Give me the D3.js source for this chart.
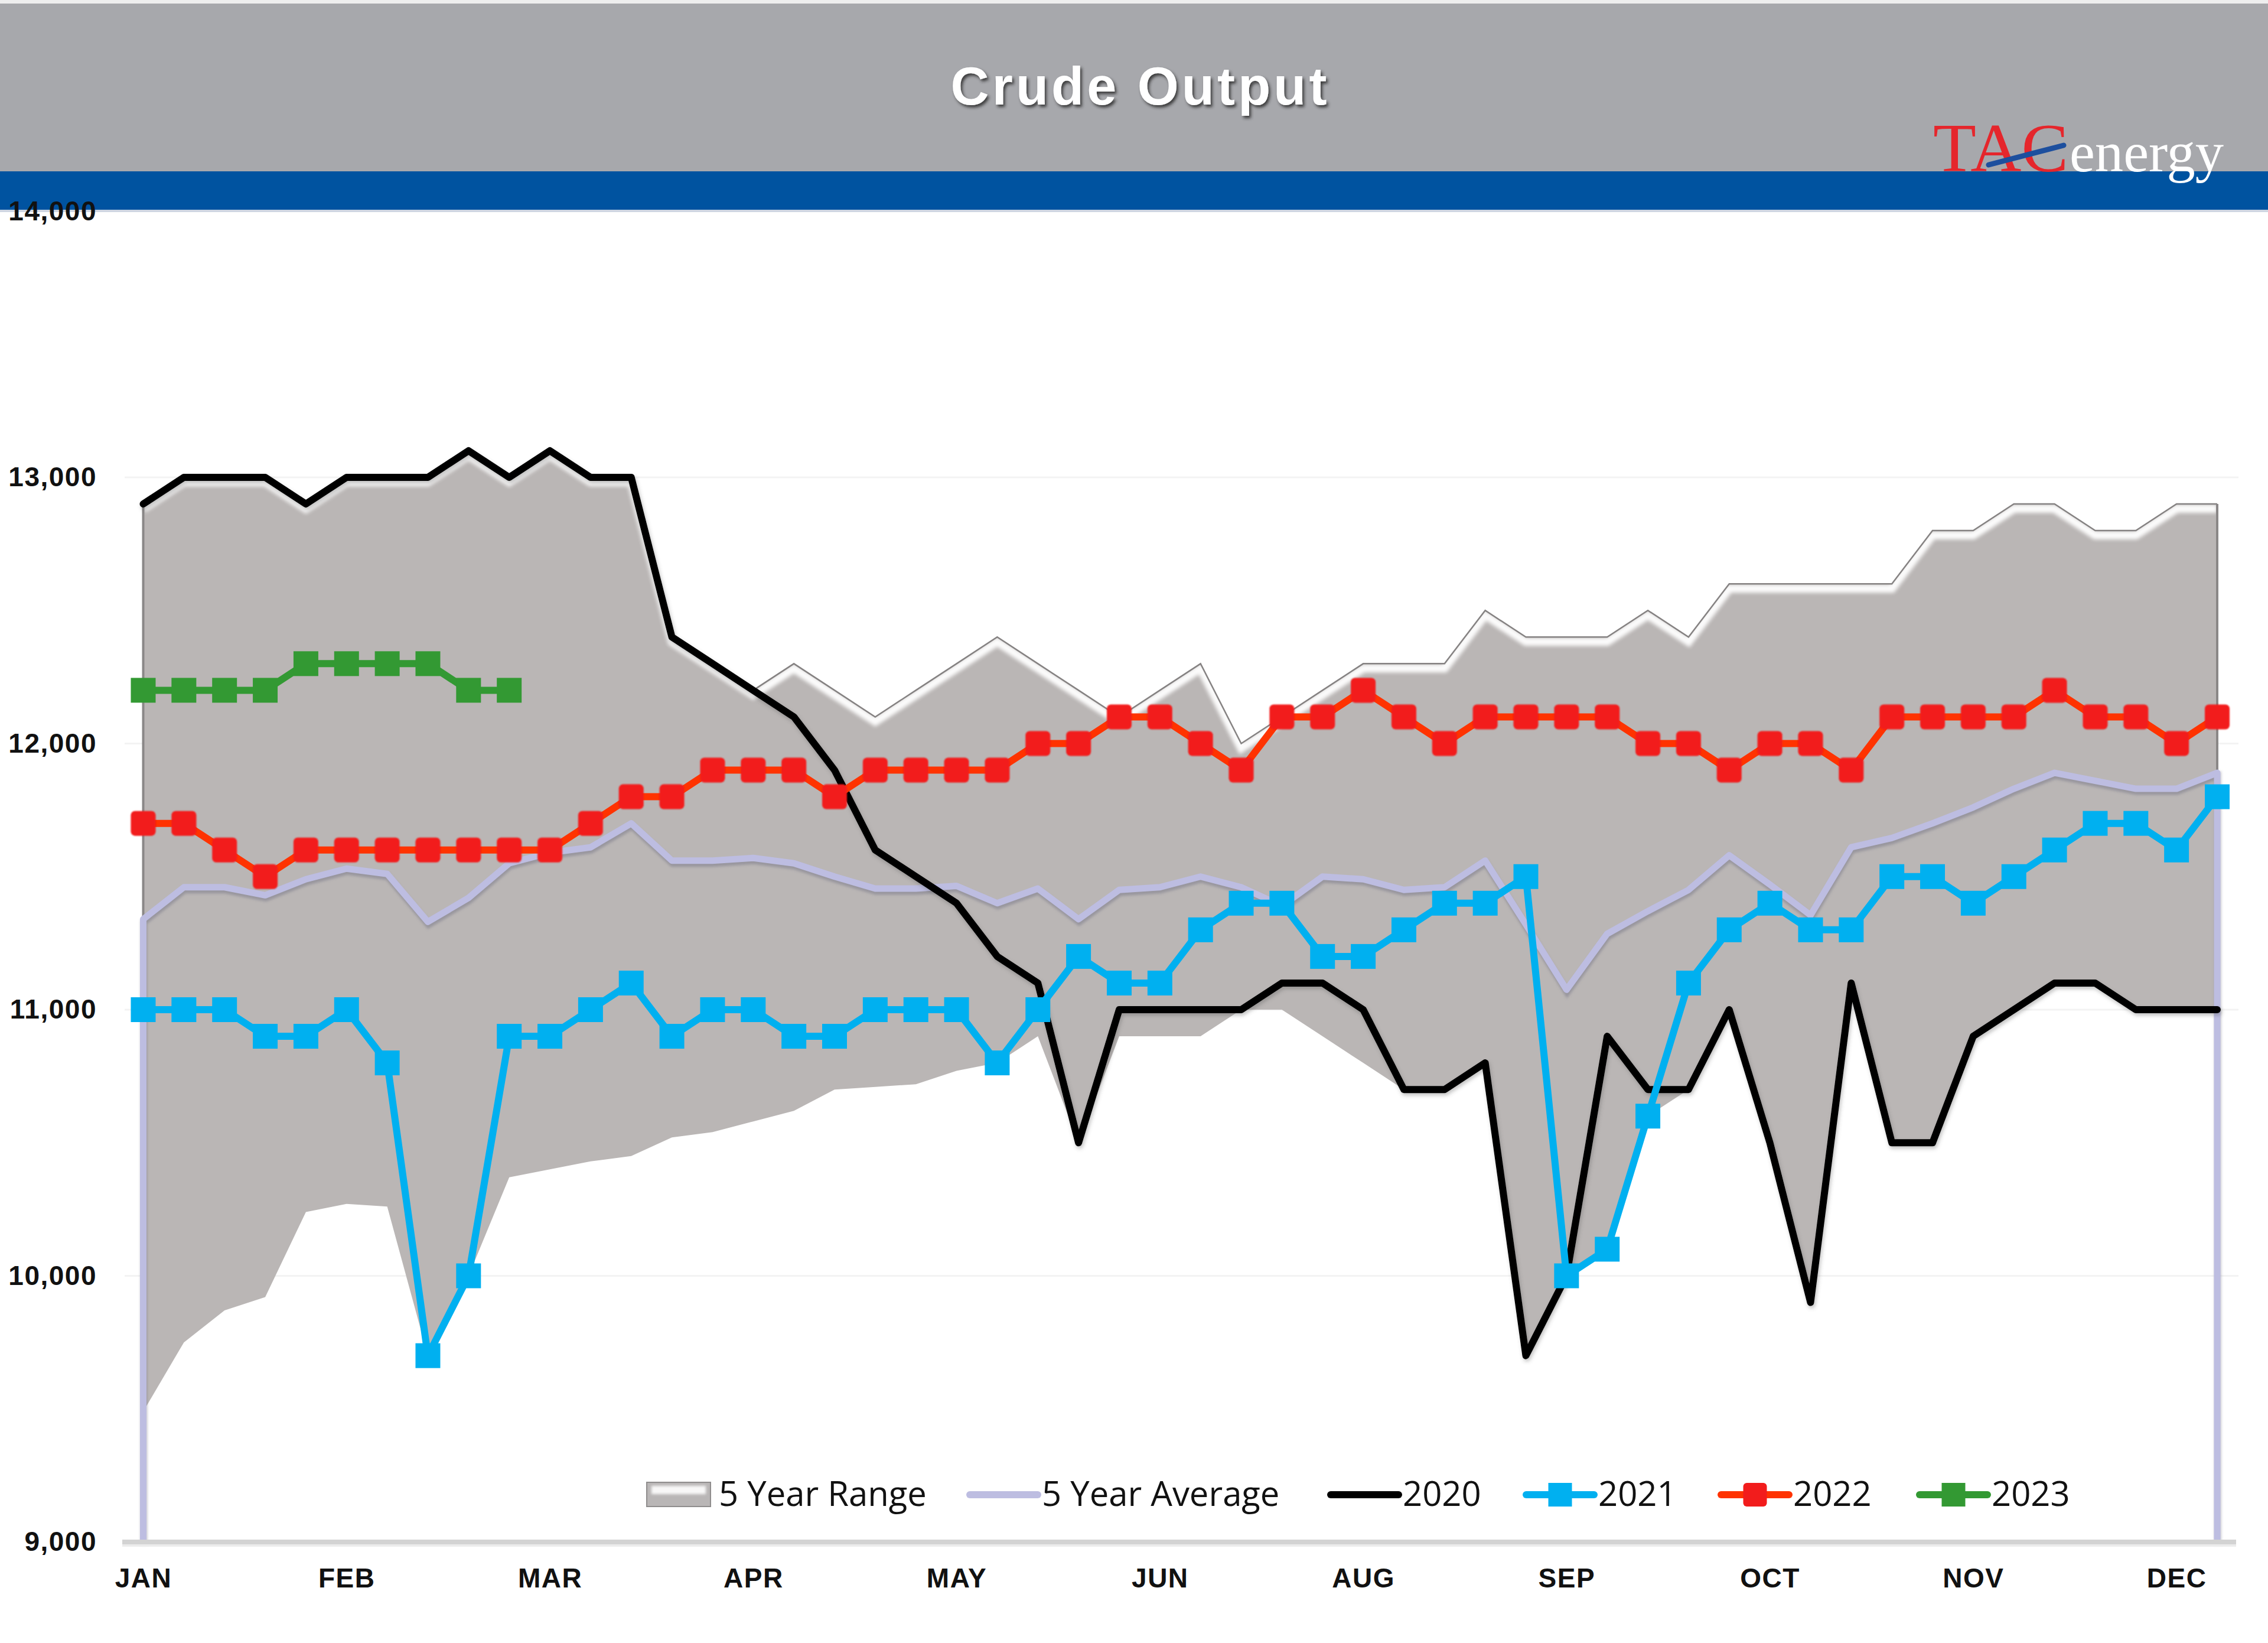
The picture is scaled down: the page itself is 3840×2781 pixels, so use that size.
<!DOCTYPE html>
<html><head><meta charset="utf-8">
<script src="https://cdn.jsdelivr.net/npm/d3@7"></script>
<style>html,body{margin:0;padding:0;background:#fff;} svg{display:block}</style>
</head><body>
<svg id="chart" width="3840" height="2781"></svg>
<script>
// ---------- data ----------
const monthLabels = ["JAN","FEB","MAR","APR","MAY","JUN","AUG","SEP","OCT","NOV","DEC"];
const monthWeeks  = [0,5,10,15,20,25,30,35,40,45,50];
const yTicks = [9000,10000,11000,12000,13000,14000];

const rangeLow = [9490,9750,9870,9920,10240,10270,10260,9700,10000,10370,10400,10430,10450,10520,10540,10580,10620,10700,10710,10720,10770,10800,10900,10500,10900,10900,10900,11000,11000,10900,10800,10700,10700,10800,9700,10000,10100,10600,10700,11000,10500,9900,11100,10500,10500,10900,11000,11100,11100,11000,11000,11000];
const rangeHigh = [12900,13000,13000,13000,12900,13000,13000,13000,13100,13000,13100,13000,13000,12400,12300,12200,12300,12200,12100,12200,12300,12400,12300,12200,12100,12200,12300,12000,12100,12200,12300,12300,12300,12500,12400,12400,12400,12500,12400,12600,12600,12600,12600,12600,12800,12800,12900,12900,12800,12800,12900,12900];
const avg5 = [11340,11460,11460,11430,11490,11530,11510,11330,11420,11550,11590,11610,11700,11560,11560,11570,11550,11500,11455,11455,11465,11400,11455,11340,11450,11460,11500,11460,11390,11500,11490,11450,11460,11560,11320,11075,11285,11370,11450,11580,11470,11355,11610,11645,11700,11760,11830,11890,11860,11830,11830,11890];
const y2020 = [12900,13000,13000,13000,12900,13000,13000,13000,13100,13000,13100,13000,13000,12400,12300,12200,12100,11900,11600,11500,11400,11200,11100,10500,11000,11000,11000,11000,11100,11100,11000,10700,10700,10800,9700,10000,10900,10700,10700,11000,10500,9900,11100,10500,10500,10900,11000,11100,11100,11000,11000,11000];
const y2021 = [11000,11000,11000,10900,10900,11000,10800,9700,10000,10900,10900,11000,11100,10900,11000,11000,10900,10900,11000,11000,11000,10800,11000,11200,11100,11100,11300,11400,11400,11200,11200,11300,11400,11400,11500,10000,10100,10600,11100,11300,11400,11300,11300,11500,11500,11400,11500,11600,11700,11700,11600,11800];
const y2022 = [11700,11700,11600,11500,11600,11600,11600,11600,11600,11600,11600,11700,11800,11800,11900,11900,11900,11800,11900,11900,11900,11900,12000,12000,12100,12100,12000,11900,12100,12100,12200,12100,12000,12100,12100,12100,12100,12000,12000,11900,12000,12000,11900,12100,12100,12100,12100,12200,12100,12100,12000,12100];
const y2023 = [12200,12200,12200,12200,12300,12300,12300,12300,12200,12200];
const legendLabels = ["5 Year Range","5 Year Average","2020","2021","2022","2023"];

// ---------- setup ----------
const W = 3840, H = 2781;
const svg = d3.select("#chart");
const weeks = d3.range(rangeLow.length);
const x = d3.scalePoint().domain(weeks).range([242.5, 3754]);
const y = d3.scaleLinear().domain([9000, 14000]).range([2610, 357.5]);

const defs = svg.append("defs");
function mkFilter(id){
  return defs.append("filter").attr("id", id).attr("filterUnits","userSpaceOnUse")
    .attr("x",0).attr("y",0).attr("width",W).attr("height",H);
}
mkFilter("titleShadow").append("feDropShadow").attr("dx",3).attr("dy",4).attr("stdDeviation",2.5)
  .attr("flood-color","#2a2a2a").attr("flood-opacity",0.85);
mkFilter("blur3").append("feGaussianBlur").attr("stdDeviation",3);
mkFilter("blur2").append("feGaussianBlur").attr("stdDeviation",2);
mkFilter("soft").append("feGaussianBlur").attr("stdDeviation",1.3);
mkFilter("lineShadow").append("feDropShadow").attr("dx",2).attr("dy",4).attr("stdDeviation",3)
  .attr("flood-color","#555").attr("flood-opacity",0.35);

svg.append("rect").attr("width",W).attr("height",H).attr("fill","#fff");

// ---------- header ----------
svg.append("rect").attr("x",0).attr("y",0).attr("width",W).attr("height",6).attr("fill","#eeeeee");
svg.append("rect").attr("x",0).attr("y",6).attr("width",W).attr("height",284).attr("fill","#a7a8ac");
svg.append("rect").attr("x",0).attr("y",290).attr("width",W).attr("height",65).attr("fill","#0053a0");
svg.append("rect").attr("x",0).attr("y",355).attr("width",W).attr("height",4).attr("fill","#cfd6e2");

svg.append("text").attr("x",1928).attr("y",177).attr("text-anchor","middle")
  .attr("font-family","Liberation Sans, Arial, sans-serif").attr("font-weight","bold")
  .attr("font-size",90).attr("fill","#ffffff").attr("textLength",637).attr("lengthAdjust","spacing")
  .attr("filter","url(#titleShadow)").text("Crude Output");

// logo
const logo = svg.append("g");
logo.append("text").attr("x",3273).attr("y",290).attr("font-family","Liberation Serif, Times New Roman, serif")
  .attr("font-size",116).attr("fill","#e5262c").attr("textLength",229).attr("lengthAdjust","spacingAndGlyphs").text("TAC");
logo.append("text").attr("x",3504).attr("y",290).attr("font-family","Liberation Serif, Times New Roman, serif")
  .attr("font-size",96).attr("fill","#ffffff").attr("textLength",261).attr("lengthAdjust","spacingAndGlyphs").text("energy");
logo.append("line").attr("x1",3367).attr("y1",279).attr("x2",3494).attr("y2",246)
  .attr("stroke","#1d4f9e").attr("stroke-width",9).attr("stroke-linecap","round");

// ---------- gridlines ----------
svg.append("g").selectAll("line").data(yTicks.filter(v => v > 9000 && v < 14000)).join("line")
  .attr("x1",211).attr("x2",3790).attr("y1",d=>y(d)).attr("y2",d=>y(d))
  .attr("stroke","#f3f3f3").attr("stroke-width",3);

// ---------- 5 year range ----------
const area = d3.area().x(i=>x(i)).y0(i=>y(rangeLow[i])).y1(i=>y(rangeHigh[i]));
defs.append("clipPath").attr("id","rangeClip").append("path").attr("d", area(weeks));
svg.append("path").attr("d", area(weeks)).attr("fill","#bab6b5");
const upperLine = d3.line().x(i=>x(i)).y(i=>y(rangeHigh[i]));
const bevel = svg.append("g").attr("clip-path","url(#rangeClip)");
bevel.append("path").attr("d", upperLine(weeks)).attr("fill","none").attr("stroke","#ffffff")
  .attr("stroke-width",14).attr("transform","translate(0,8)").attr("filter","url(#blur3)").attr("opacity",0.95);
svg.append("path").attr("d", upperLine(weeks)).attr("fill","none").attr("stroke","#858282").attr("stroke-width",2.5);
svg.append("line").attr("x1",x(0)).attr("x2",x(0)).attr("y1",y(rangeLow[0])).attr("y2",y(rangeHigh[0]))
  .attr("stroke","#8a8787").attr("stroke-width",4);
svg.append("line").attr("x1",x(51)).attr("x2",x(51)).attr("y1",y(rangeLow[51])).attr("y2",y(rangeHigh[51]))
  .attr("stroke","#8a8787").attr("stroke-width",4);

// ---------- 5 year average ----------
const ptLine = d3.line().x(d=>d[0]).y(d=>d[1]);
const avgPts = [[x(0), y(9000)]].concat(weeks.map(i=>[x(i), y(avg5[i])])).concat([[x(51), y(9000)]]);
svg.append("path").attr("d", ptLine(avgPts)).attr("fill","none").attr("stroke","#6e6e80").attr("stroke-opacity",0.45)
  .attr("stroke-width",11).attr("transform","translate(1,5)").attr("filter","url(#blur2)");
svg.append("path").attr("d", ptLine(avgPts)).attr("fill","none").attr("stroke","#bdbde1")
  .attr("stroke-width",11).attr("stroke-linejoin","round");

// ---------- series ----------
function drawSeries(vals, color, lineColor, marker, opts){
  const g = svg.append("g");
  const ln = d3.line().x((d,i)=>x(i)).y(d=>y(d));
  g.append("path").attr("d", ln(vals)).attr("fill","none").attr("stroke", lineColor)
    .attr("stroke-width",12).attr("stroke-linejoin","round").attr("stroke-linecap","round")
    .attr("filter", opts && opts.shadow ? "url(#lineShadow)" : null);
  if (marker) {
    const s = 42;
    g.selectAll("rect").data(vals).join("rect")
      .attr("x",(d,i)=>x(i)-s/2).attr("y",d=>y(d)-s/2).attr("width",s).attr("height",s)
      .attr("rx", opts && opts.rx ? opts.rx : 0)
      .attr("fill", color)
      .attr("filter", opts && opts.soft ? "url(#soft)" : null);
  }
}
drawSeries(y2020, "#000", "#000", false, {shadow:true});
drawSeries(y2021, "#00b0f0", "#00b0f0", true);
drawSeries(y2022, "#f21c1c", "#ff3300", true, {rx:7, soft:true});
drawSeries(y2023, "#339933", "#339933", true);

// ---------- axes ----------
svg.append("rect").attr("x",207).attr("y",2606).attr("width",3579).attr("height",8).attr("fill","#d3d3d3");
svg.append("rect").attr("x",207).attr("y",2614).attr("width",3579).attr("height",4).attr("fill","#ececec");

const yAxis = svg.append("g").attr("transform","translate(168,0)")
  .call(d3.axisLeft(y).tickValues(yTicks).tickFormat(d3.format(",")).tickSize(0).tickPadding(4));
yAxis.select(".domain").remove();
yAxis.selectAll("text").attr("font-family","Liberation Sans, Arial, sans-serif").attr("font-weight","bold")
  .attr("font-size",46).attr("fill","#111").style("letter-spacing","1.5px");

const xAxis = svg.append("g").attr("transform","translate(0,2610)")
  .call(d3.axisBottom(x).tickValues(monthWeeks).tickFormat(d=>monthLabels[monthWeeks.indexOf(d)]).tickSize(0).tickPadding(44));
xAxis.select(".domain").remove();
xAxis.selectAll("text").attr("font-family","Liberation Sans, Arial, sans-serif").attr("font-weight","bold")
  .attr("font-size",46).attr("fill","#111").style("letter-spacing","1.5px");

// ---------- legend ----------
const legendX = [1095,1642,2253,2584,2914,3250];
const legendColors = [null,"#bdbde1","#000","#00b0f0","#ff3300","#339933"];
const markerColors = [null,null,null,"#00b0f0","#f21c1c","#339933"];
const lg = svg.append("g");
const lgY = 2530;
legendLabels.forEach((lab,k)=>{
  const x0 = legendX[k];
  if (k === 0) {
    lg.append("rect").attr("x",x0).attr("y",lgY-21).attr("width",108).attr("height",41)
      .attr("fill","#b9b6b6").attr("stroke","#8f8d8d").attr("stroke-width",2);
    lg.append("rect").attr("x",x0+8).attr("y",lgY-15).attr("width",92).attr("height",14)
      .attr("fill","#ffffff").attr("opacity",0.9).attr("filter","url(#blur2)");
  } else {
    lg.append("line").attr("x1",x0).attr("x2",x0+115).attr("y1",lgY).attr("y2",lgY)
      .attr("stroke",legendColors[k]).attr("stroke-width",12).attr("stroke-linecap","round");
    if (markerColors[k]) {
      lg.append("rect").attr("x",x0+57.5-20).attr("y",lgY-20).attr("width",40).attr("height",40)
        .attr("rx", k===4 ? 6 : 0).attr("fill",markerColors[k]);
    }
  }
  lg.append("text").attr("x",x0+122).attr("y",2549).attr("font-family","Open Sans, Noto Sans, sans-serif")
    .attr("font-size",58).attr("fill","#111").text(lab);
});
</script>
</body></html>
